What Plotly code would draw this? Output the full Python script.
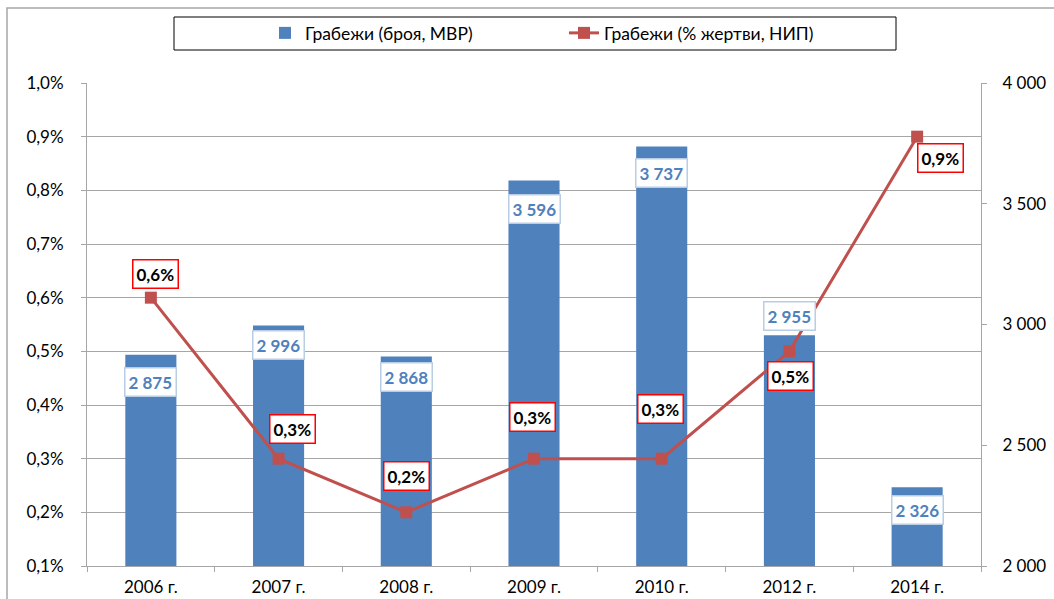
import plotly.graph_objects as go

categories = ["2006 г.", "2007 г.", "2008 г.", "2009 г.", "2010 г.", "2012 г.", "2014 г."]
robberies_count = [2875, 2996, 2868, 3596, 3737, 2955, 2326]
robberies_pct = [0.006, 0.003, 0.002, 0.003, 0.003, 0.005, 0.009]
count_labels = ["2 875", "2 996", "2 868", "3 596", "3 737", "2 955", "2 326"]
pct_labels = ["0,6%", "0,3%", "0,2%", "0,3%", "0,3%", "0,5%", "0,9%"]

# label offsets (styling, px)
bar_label_dy = [-27, -20, -21, -28, -26, 19, -23]
line_label_dx = [5, 14, 0, -2, -1, 1, 23]
line_label_dy = [24, 30, 36, 42, 50, -25, -21]

BLUE = "#4F81BD"
RED = "#C0504D"
FONT = "Lato, Carlito, Calibri, Liberation Sans, Arial"

fig = go.Figure()
fig.add_trace(go.Bar(
    x=categories, y=robberies_count, name="Грабежи (броя, МВР)",
    marker=dict(color=BLUE, line=dict(width=0)), width=0.4, yaxis="y",
))
fig.add_trace(go.Scatter(
    x=categories, y=robberies_pct, name="Грабежи (% жертви, НИП)",
    mode="lines+markers", line=dict(color=RED, width=3),
    marker=dict(symbol="square", size=12, color=RED), yaxis="y2",
))

annotations = []
for c, v, t, dy in zip(categories, robberies_count, count_labels, bar_label_dy):
    annotations.append(dict(
        x=c, y=v, xref="x", yref="y", text="<b>%s</b>" % t, showarrow=False,
        yshift=dy, font=dict(family=FONT, size=17, color=BLUE),
        bgcolor="white", bordercolor="#B9CDE5", borderwidth=1.5, borderpad=3,
    ))
for c, v, t, dx, dy in zip(categories, robberies_pct, pct_labels, line_label_dx, line_label_dy):
    annotations.append(dict(
        x=c, y=v, xref="x", yref="y2", text="<b>%s</b>" % t, showarrow=False,
        xshift=dx, yshift=dy, font=dict(family=FONT, size=17, color="black"),
        bgcolor="white", bordercolor="#FF0000", borderwidth=1.5, borderpad=3,
    ))

W, H = 1054, 599
L, R, T, B = 87, 981, 83, 566
pw, ph = R - L, B - T

def px(x):
    return (x - L) / pw

def py(y):
    return (B - y) / ph

shapes = [
    dict(type="rect", xref="paper", yref="paper", x0=px(7), x1=px(1070), y0=py(620), y1=py(8),
         line=dict(color="#A6A6A6", width=1.5), layer="below"),
    dict(type="rect", xref="paper", yref="paper", x0=px(174), x1=px(896), y0=py(50), y1=py(17),
         line=dict(color="black", width=1), layer="below"),
]

fig.update_layout(
    width=W, height=H,
    margin=dict(l=L, r=W - R, t=T, b=H - B, autoexpand=False),
    paper_bgcolor="white", plot_bgcolor="white",
    separators=", ",
    font=dict(family=FONT, size=17, color="black"),
    showlegend=True,
    legend=dict(orientation="h", x=px(265), xanchor="left", y=py(33), yanchor="middle",
                font=dict(family=FONT, size=17.5), entrywidth=254, bgcolor="rgba(0,0,0,0)",
                itemwidth=30),
    xaxis=dict(showline=True, linecolor="#A6A6A6", ticks="outside", tickson="boundaries",
               ticklen=5, tickcolor="#A6A6A6", showgrid=False, automargin=False,
               tickfont=dict(family=FONT, size=17), ticklabelstandoff=6),
    yaxis=dict(side="right", range=[2000, 4000], dtick=500, tickformat=",d",
               showgrid=False, showline=True, linecolor="#A6A6A6", ticks="outside",
               ticklen=5, tickcolor="#A6A6A6", zeroline=False, automargin=False,
               tickfont=dict(family=FONT, size=17), ticklabelstandoff=12),
    yaxis2=dict(side="left", overlaying="y", range=[0.001, 0.010], dtick=0.001,
                tickformat=".1%", showgrid=True, gridcolor="#A6A6A6", gridwidth=1,
                showline=True, linecolor="#A6A6A6", ticks="outside", ticklen=5,
                tickcolor="#A6A6A6", zeroline=False, automargin=False,
                tickfont=dict(family=FONT, size=17), ticklabelstandoff=14),
    annotations=annotations,
    shapes=shapes,
    bargap=0.6,
)

fig.write_html("out.html", config={"displayModeBar": False},
               post_script="document.body.style.margin='0px';")
